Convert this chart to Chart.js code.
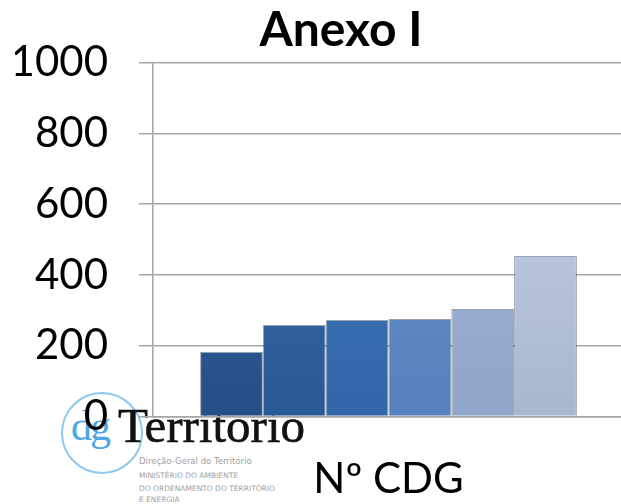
<!DOCTYPE html>
<html>
<head>
<meta charset="utf-8">
<script src="https://cdn.jsdelivr.net/npm/chart.js@4/dist/chart.umd.min.js"></script>
<style>
    html, body { margin: 0; padding: 0; background: #fff; overflow: hidden; }
    #wrap { position: relative; width: 682px; height: 545px; }
    #chart { position: relative; z-index: 2; }
    #logo { position: absolute; left: 0; top: 0; z-index: 1; pointer-events: none; }
    .ring { position: absolute; left: 61px; top: 392px; width: 78px; height: 78px;
            border: 2px solid #8cc8f0; border-radius: 50%; }
    .dg { position: absolute; left: 71px; top: 402px; font: 42px "Liberation Serif", serif;
          color: #4ea6e2; letter-spacing: -2px; }
    .terr { position: absolute; left: 118px; top: 397px; font: 49px "Liberation Serif", serif;
            color: #111; -webkit-text-stroke: 0.6px #111; }
    .small { position: absolute; left: 139px; font: 7.5px "DejaVu Sans", sans-serif;
             color: #a0a0a0; white-space: nowrap; }
</style>
</head>
<body>
<div id="wrap">
    <canvas id="chart"></canvas>
    <div id="logo">
        <div class="ring"></div>
        <div class="dg">dg</div>
        <div class="terr">Territorio</div>
        <div class="small" style="top:456px;font-size:8.5px">Direção-Geral do Território</div>
        <div class="small" style="top:471px">MINISTÉRIO DO AMBIENTE</div>
        <div class="small" style="top:484px">DO ORDENAMENTO DO TERRITÓRIO</div>
        <div class="small" style="top:495px">E ENERGIA</div>
    </div>
</div>
<script>
// chart data
const categories = ['Nº CDG'];
const seriesNames = ['Série 1', 'Série 2', 'Série 3', 'Série 4', 'Série 5', 'Série 6'];
const seriesValues = [183, 259, 273, 276, 304, 454];
const yTicks = [0, 200, 400, 600, 800, 1000];

// top / bottom shade of each bar
const barColors = [
    ['#3667a6', '#264f86'],
    ['#3a6fb0', '#2a5a95'],
    ['#437ec6', '#3366a8'],
    ['#6b97d0', '#5580bb'],
    ['#a7bcdf', '#8ea4c8'],
    ['#c8d5eb', '#a9b6cf']
];

function shade(i) {
    return (ctx) => {
        const area = ctx.chart.chartArea;
        if (!area) return barColors[i][0];
        const g = ctx.chart.ctx.createLinearGradient(0, area.top, 0, area.bottom);
        g.addColorStop(0, barColors[i][0]);
        g.addColorStop(1, barColors[i][1]);
        return g;
    };
}

const datasets = seriesNames.map((name, i) => ({
    label: name,
    data: [seriesValues[i]],
    backgroundColor: shade(i),
    borderColor: 'rgba(30,50,80,0.45)',
    borderWidth: 1,
    barPercentage: 1.0,
    categoryPercentage: 0.8
}));

// title sits a bit right of the canvas centre in the original
const titleShift = {
    id: 'titleShift',
    afterLayout(chart) {
        if (chart.titleBlock) chart.titleBlock.left += 43;
    }
};

new Chart(document.getElementById('chart'), {
    type: 'bar',
    data: { labels: categories, datasets: datasets },
    plugins: [titleShift],
    options: {
        responsive: true,
        maintainAspectRatio: false,
        animation: false,
        layout: { padding: { left: 15, right: 58, top: 0, bottom: 2 } },
        plugins: {
            legend: { display: false },
            tooltip: { enabled: false },
            title: {
                display: true,
                text: 'Anexo I',
                color: '#000',
                font: { family: 'Lato', size: 48, weight: 'bold' },
                padding: { top: 2, bottom: 3 }
            }
        },
        scales: {
            x: {
                grid: { display: false, drawTicks: false },
                border: { display: true, color: '#a6a6a6', width: 1.5 },
                ticks: { color: '#000', padding: 38, font: { family: 'Lato', size: 42 } }
            },
            y: {
                min: 0,
                max: 1000,
                afterBuildTicks: (scale) => { scale.ticks = yTicks.map(v => ({ value: v })); },
                afterFit: (scale) => { scale.width = 138; },
                grid: { color: '#a6a6a6', lineWidth: 1.5, tickLength: 14 },
                border: { color: '#a6a6a6', width: 1.5 },
                ticks: {
                    color: '#000', padding: 31, font: { family: 'Lato', size: 42 },
                    callback: (v) => String(v)
                }
            }
        }
    }
});
</script>
</body>
</html>
